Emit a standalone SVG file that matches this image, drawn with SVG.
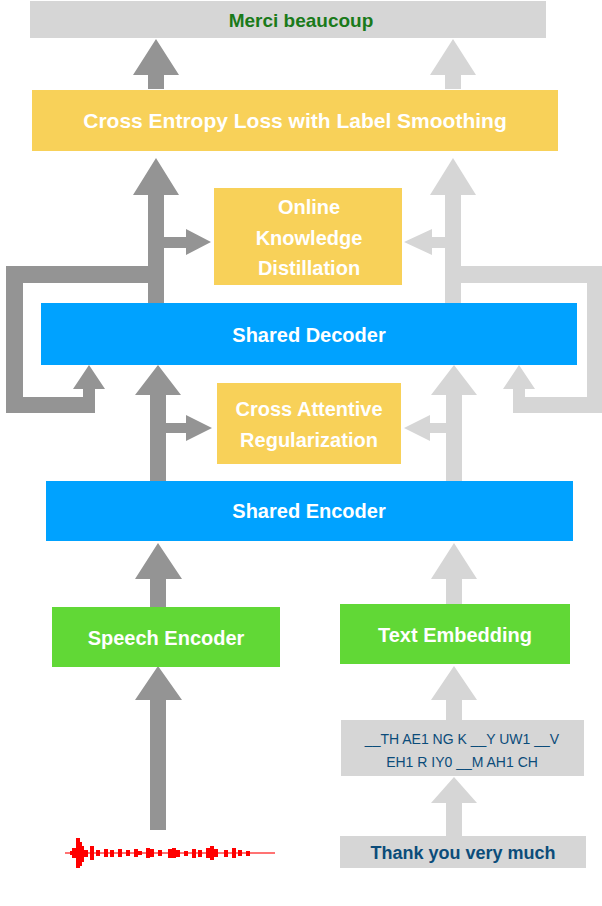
<svg xmlns="http://www.w3.org/2000/svg" width="602" height="906" viewBox="0 0 602 906">
<style>
.t{font-family:"Liberation Sans",Arial,sans-serif;font-weight:bold;fill:#fff;text-anchor:middle}
.d{fill:#949494}.l{fill:#d6d6d6}
.y{fill:#f8d159}.b{fill:#00a2ff}.g{fill:#61d836}.gr{fill:#d6d6d6}
</style>
<rect width="602" height="906" fill="#fff"/>
<g id="connectors">
<!-- top arrows -->
<polygon class="d" points="148,89 164,89 164,75 179,75 156,39 133,75 148,75"/>
<polygon class="l" points="445,89 461,89 461,75 476,75 453,39 430,75 445,75"/>
<!-- arrows from decoder to CE -->
<polygon class="d" points="148,303 164,303 164,248 186,248 186,255 211,242 186,229 186,237 164,237 164,195 179,195 156,158 133,195 148,195"/>
<polygon class="l" points="445,303 461,303 461,195 476,195 453,158 430,195 445,195 445,237 432,237 432,229 404,242 432,255 432,248 445,248"/>
<!-- loops -->
<polygon class="d" points="148,266 148,283 23,283 23,397 83,397 83,389 73,389 89,365 105,389 95,389 95,413 6,413 6,266"/>
<polygon class="l" points="461,266 602,266 602,413 513,413 513,389 503,389 519,365 535,389 525,389 525,397 587,397 587,283 461,283"/>
<!-- encoder to decoder -->
<polygon class="d" points="150,481 166,481 166,433 186,433 186,441 212,428 186,415 186,423 166,423 166,395 181,395 158,365 135,395 150,395"/>
<polygon class="l" points="446,481 462,481 462,395 477,395 454,365 431,395 446,395 446,423 430,423 430,415 404,428 430,441 430,433 446,433"/>
<!-- into encoder -->
<polygon class="d" points="150,607 166,607 166,579 182,579 158,543 135,579 150,579"/>
<polygon class="l" points="446,604 462,604 462,579 477,579 454,543 431,579 446,579"/>
<!-- into speech encoder / text embedding -->
<polygon class="d" points="150,830 166,830 166,700 182,700 158,666 135,700 150,700"/>
<polygon class="l" points="446,720 462,720 462,700 477,700 454,666 431,700 446,700"/>
<polygon class="l" points="446,836 462,836 462,803 477,803 454,777 431,803 446,803"/>
</g>
<g id="merci"><rect class="gr" x="30" y="1" width="516" height="37"/><text class="t" x="301" y="27" font-size="19" style="fill:#1a7a1a">Merci beaucoup</text></g>
<g id="celoss"><rect class="y" x="32" y="90" width="526" height="61"/><text class="t" x="295" y="128" font-size="21">Cross Entropy Loss with Label Smoothing</text></g>
<g id="okd"><rect class="y" x="214" y="188" width="188" height="97"/><text class="t" x="309" y="214" font-size="20">Online</text><text class="t" x="309" y="245" font-size="20">Knowledge</text><text class="t" x="309" y="275" font-size="20">Distillation</text></g>
<g id="decoder"><rect class="b" x="41" y="303" width="536" height="62"/><text class="t" x="309" y="342" font-size="20">Shared Decoder</text></g>
<g id="car"><rect class="y" x="217" y="383" width="184" height="81"/><text class="t" x="309" y="416" font-size="20">Cross Attentive</text><text class="t" x="309" y="447" font-size="20">Regularization</text></g>
<g id="encoder"><rect class="b" x="46" y="481" width="527" height="60"/><text class="t" x="309" y="518" font-size="20">Shared Encoder</text></g>
<g id="speech"><rect class="g" x="52" y="607" width="228" height="60"/><text class="t" x="166" y="645" font-size="20">Speech Encoder</text></g>
<g id="textemb"><rect class="g" x="340" y="604" width="230" height="60"/><text class="t" x="455" y="642" font-size="20">Text Embedding</text></g>
<g id="phonemes"><rect class="gr" x="341" y="720" width="243" height="56"/><text class="t" x="462" y="744" font-size="14" style="fill:#0b4c7a;font-weight:normal">__TH AE1 NG K __Y UW1 __V</text><text class="t" x="462" y="767" font-size="14" style="fill:#0b4c7a;font-weight:normal">EH1 R IY0 __M AH1 CH</text></g>
<g id="thank"><rect class="gr" x="340" y="836" width="246" height="32"/><text class="t" x="463" y="859" font-size="18" style="fill:#0b4c7a">Thank you very much</text></g>
<g id="waveform">
<line x1="65" y1="853" x2="275" y2="853" stroke="#f44" stroke-width="1.5"/>
<path d="M70,853h4M74,848v10M78,838v30M80,842v24M82,846v16M86,850v7M92,846v14M98,850v6M106,849v8M112,850v7M120,849v8M128,850v6M136,849v8M140,851v4M148,848v10M152,849v8M160,850v6M170,849v9M174,848v10M178,850v7M186,851v5M194,849v9M200,850v7M208,848v10M212,846v14M216,849v8M226,850v7M234,848v10M240,850v6M248,851v5" stroke="#f00" stroke-width="4" fill="none"/>
</g>
</svg>
